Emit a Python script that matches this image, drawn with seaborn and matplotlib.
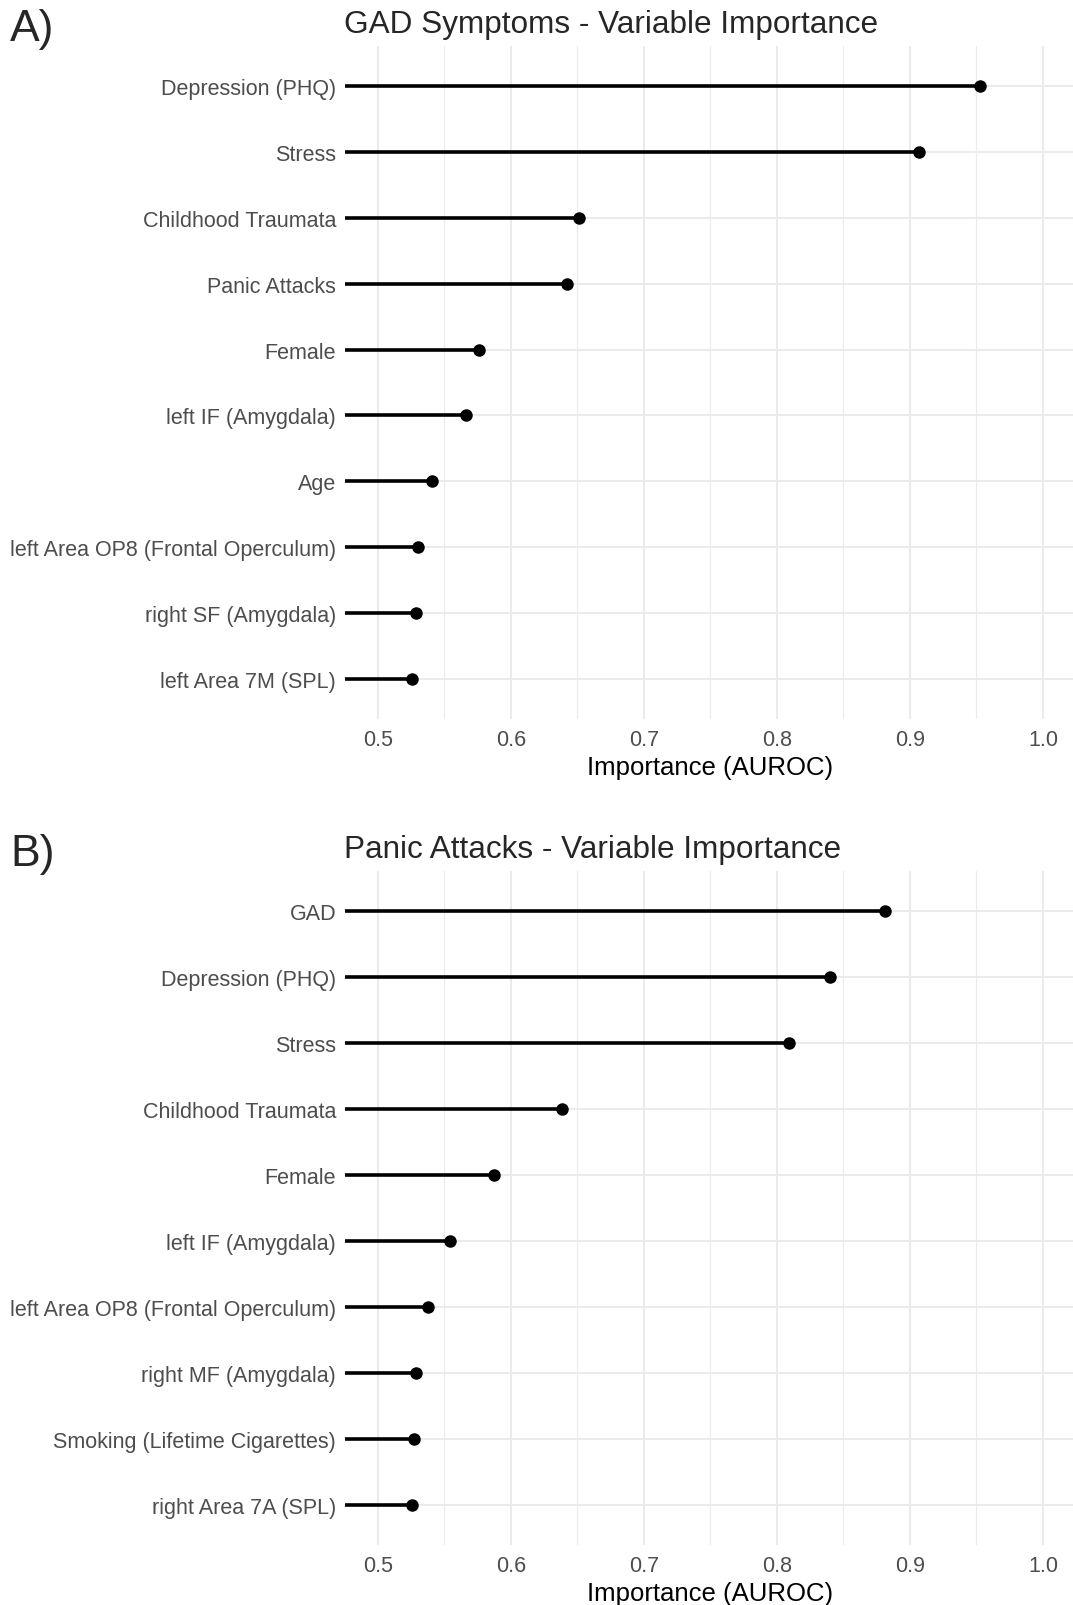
import numpy as np
import pandas as pd
import matplotlib
matplotlib.use("Agg")
import matplotlib.pyplot as plt
import seaborn as sns

gad_vars = ["Depression (PHQ)", "Stress", "Childhood Traumata", "Panic Attacks", "Female",
            "left IF (Amygdala)", "Age", "left Area OP8 (Frontal Operculum)",
            "right SF (Amygdala)", "left Area 7M (SPL)"]
gad_vals = [0.953, 0.907, 0.651, 0.642, 0.576, 0.566, 0.541, 0.530, 0.5285, 0.5255]

panic_vars = ["GAD", "Depression (PHQ)", "Stress", "Childhood Traumata", "Female",
              "left IF (Amygdala)", "left Area OP8 (Frontal Operculum)", "right MF (Amygdala)",
              "Smoking (Lifetime Cigarettes)", "right Area 7A (SPL)"]
panic_vals = [0.881, 0.840, 0.809, 0.6385, 0.587, 0.5545, 0.5375, 0.5285, 0.527, 0.5255]

x_ticks = [0.5, 0.6, 0.7, 0.8, 0.9, 1.0]
x_minor = [0.55, 0.65, 0.75, 0.85, 0.95]
x_lim = (0.475, 1.025)

sns.set_theme(style="white")
plt.rcParams['font.family'] = ['Liberation Sans', 'DejaVu Sans']

W, H = 1073, 1606
fig = plt.figure(figsize=(W / 100, H / 100), dpi=100)

panels = [
    ("A)", "GAD Symptoms - Variable Importance", gad_vars, gad_vals, 47, 720),
    ("B)", "Panic Attacks - Variable Importance", panic_vars, panic_vals, 872, 1546),
]
left_px = 344.5
for tag, title, vars_, vals, top, bot in panels:
    ax = fig.add_axes([left_px / W, 1 - bot / H, (W - left_px) / W + 0.003, (bot - top) / H])
    df = pd.DataFrame({"variable": vars_, "value": vals})
    pos = np.arange(len(df))
    ax.set_xlim(*x_lim)
    for xm in x_minor:
        ax.axvline(xm, color="#EBEBEB", lw=0.8, zorder=0)
    for xm in x_ticks:
        ax.axvline(xm, color="#EBEBEB", lw=1.4, zorder=0)
    for p in pos:
        ax.axhline(p, color="#EBEBEB", lw=1.4, zorder=0)
    ax.hlines(y=pos, xmin=x_lim[0], xmax=df["value"], color="black", lw=2.6, zorder=2)
    sns.stripplot(data=df, x="value", y="variable", orient="h", jitter=False,
                  color="black", size=9, ax=ax, zorder=3, linewidth=0)
    ax.set_xlim(*x_lim)
    ax.set_ylim(len(df) - 0.4, -0.6)
    ax.set_xticks(x_ticks)
    ax.set_xticklabels([f"{t:.1f}" for t in x_ticks])
    ax.tick_params(axis="both", length=0, labelsize=15.5, labelcolor="#4D4D4D")
    ax.tick_params(axis="y", pad=6)
    ax.tick_params(axis="x", pad=7)
    ax.set_ylabel("")
    ax.set_xlabel("Importance (AUROC)", fontsize=18.5, color="black", labelpad=4)
    for s in ax.spines.values():
        s.set_visible(False)
    ax.grid(False)
    fig.text(left_px / W - 0.0005, 1 - (top - 22) / H, title, fontsize=22.7, va="center", ha="left")
    fig.text(10 / W, 1 - (top - 17) / H, tag, fontsize=32, va="center", ha="left")

fig.savefig("out.png", dpi=100, facecolor="white")
